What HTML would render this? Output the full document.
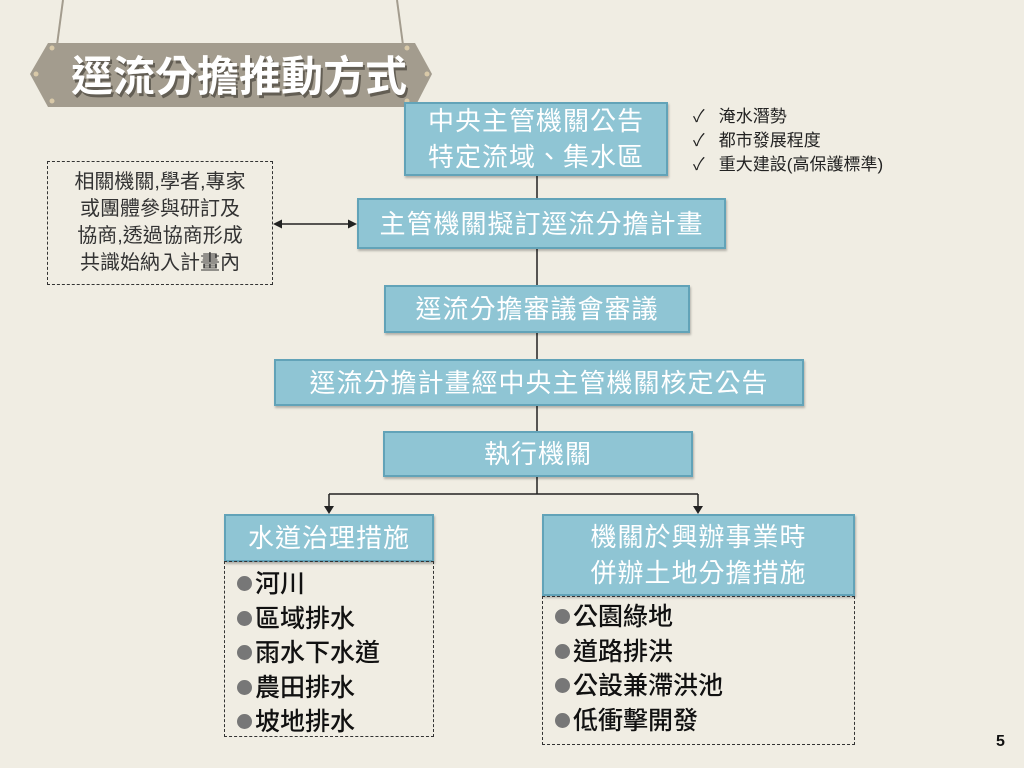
<!DOCTYPE html>
<html><head><meta charset="utf-8"><style>
body{margin:0;width:1024px;height:768px;background:#f0ede3;position:relative;overflow:hidden;font-family:"Liberation Sans","Noto Sans CJK TC",sans-serif;}
.b{position:absolute;background:#8fc5d4;border:2px solid #62a3b8;box-sizing:border-box;color:#fff;display:flex;align-items:center;justify-content:center;text-align:center;font-size:26px;line-height:36px;letter-spacing:1px;box-shadow:1px 2px 2px rgba(0,0,0,.25);}
.d{position:absolute;border:1.5px dashed #333;box-sizing:border-box;}
.li{font-size:25px;line-height:34.5px;color:#111;font-weight:500;}
.li span{display:inline-block;width:15px;height:15px;border-radius:50%;background:#777;margin-right:3px;vertical-align:1px;}
.ck{position:absolute;left:693px;font-size:17px;color:#222;}
</style></head><body>
<svg width="1024" height="768" style="position:absolute;left:0;top:0">
<line x1="63" y1="0" x2="57" y2="45" stroke="#a39c8e" stroke-width="2"/>
<line x1="397" y1="0" x2="403" y2="45" stroke="#a39c8e" stroke-width="2"/>
<polygon points="48,43 415,43 432,74 415,107 48,107 30,74" fill="#a39c8e"/>
<circle cx="52" cy="48" r="2.5" fill="#d9c9a8"/><circle cx="36" cy="74" r="2.5" fill="#d9c9a8"/><circle cx="52" cy="101" r="2.5" fill="#d9c9a8"/>
<circle cx="407" cy="48" r="2.5" fill="#d9c9a8"/><circle cx="427" cy="74" r="2.5" fill="#d9c9a8"/><circle cx="407" cy="101" r="2.5" fill="#d9c9a8"/>
<text x="73" y="94" font-size="42" font-weight="bold" fill="#3a362f" font-family="Noto Sans CJK TC,sans-serif" opacity=".6">逕流分擔推動方式</text>
<text x="71" y="91" font-size="42" font-weight="bold" fill="#fff" font-family="Noto Sans CJK TC,sans-serif">逕流分擔推動方式</text>
<g stroke="#222" stroke-width="1.5" fill="#222">
<line x1="537" y1="176" x2="537" y2="431"/>
<line x1="537" y1="477" x2="537" y2="494"/>
<line x1="329" y1="494" x2="698" y2="494"/>
<line x1="329" y1="494" x2="329" y2="506"/>
<line x1="698" y1="494" x2="698" y2="506"/>
<polygon points="324,506 334,506 329,514" stroke="none"/>
<polygon points="693,506 703,506 698,514" stroke="none"/>
<line x1="280" y1="224" x2="350" y2="224"/>
<polygon points="273,224 282,219.5 282,228.5" stroke="none"/>
<polygon points="357,224 348,219.5 348,228.5" stroke="none"/>
</g>
</svg>
<div class="b" style="left:404px;top:102px;width:264px;height:74px">中央主管機關公告<br>特定流域、集水區</div>
<div class="b" style="left:357px;top:198px;width:369px;height:51px">主管機關擬訂逕流分擔計畫</div>
<div class="b" style="left:384px;top:285px;width:306px;height:48px">逕流分擔審議會審議</div>
<div class="b" style="left:274px;top:359px;width:530px;height:47px">逕流分擔計畫經中央主管機關核定公告</div>
<div class="b" style="left:383px;top:431px;width:310px;height:46px">執行機關</div>
<div class="b" style="left:224px;top:514px;width:210px;height:48px">水道治理措施</div>
<div class="b" style="left:542px;top:514px;width:313px;height:82px">機關於興辦事業時<br>併辦土地分擔措施</div>
<div class="d" style="left:47px;top:161px;width:226px;height:124px;display:flex;align-items:center;justify-content:center;text-align:center;font-size:20px;line-height:27px;color:#333">相關機關,學者,專家<br>或團體參與研訂及<br>協商,透過協商形成<br>共識始納入計畫內</div>
<div class="d" style="left:224px;top:561px;width:210px;height:176px;padding:5px 0 0 12px">
<div class="li"><span></span>河川</div><div class="li"><span></span>區域排水</div><div class="li"><span></span>雨水下水道</div><div class="li"><span></span>農田排水</div><div class="li"><span></span>坡地排水</div></div>
<div class="d" style="left:542px;top:596px;width:313px;height:149px;padding:3px 0 0 12px">
<div class="li"><span></span>公園綠地</div><div class="li"><span></span>道路排洪</div><div class="li"><span></span>公設兼滯洪池</div><div class="li"><span></span>低衝擊開發</div></div>
<div class="ck" style="top:102px">✓&nbsp;&nbsp;&nbsp;淹水潛勢</div>
<div class="ck" style="top:126px">✓&nbsp;&nbsp;&nbsp;都市發展程度</div>
<div class="ck" style="top:150px">✓&nbsp;&nbsp;&nbsp;重大建設(高保護標準)</div>
<div style="position:absolute;left:996px;top:733px;font-size:16px;font-weight:bold;color:#111">5</div>
</body></html>
